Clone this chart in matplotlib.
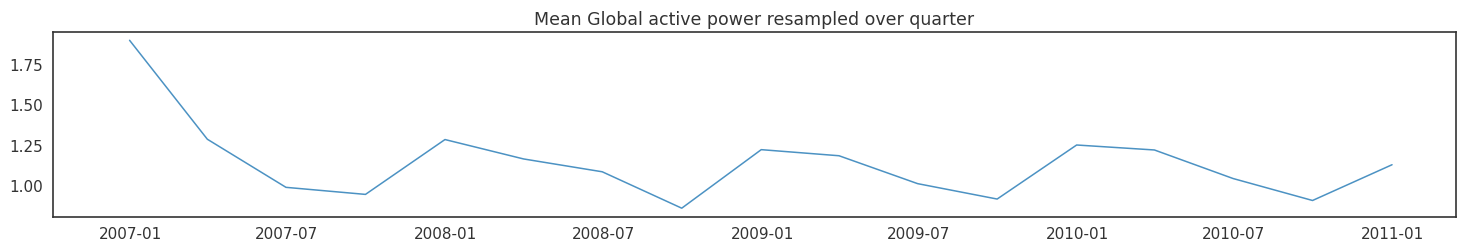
import matplotlib
matplotlib.use('Agg')
import matplotlib.pyplot as plt
import matplotlib.ticker as mticker
import pandas as pd
import seaborn as sns

# Quarterly mean of global active power (quarter-end dates)
dates = pd.date_range('2006-12-31', periods=17, freq='QE')
values = [1.90, 1.283, 0.983, 0.939, 1.281, 1.16, 1.08, 0.853, 1.218,
          1.18, 1.006, 0.91, 1.247, 1.216, 1.038, 0.901, 1.124]

sns.set_style('white')
plt.rcParams['font.family'] = ['DejaVu Sans']

fig, ax = plt.subplots(figsize=(14.71, 2.53), dpi=100)
ax.plot(dates, values, color='#1f77b4', linewidth=1.1, alpha=0.8)
ax.set_title('Mean Global active power resampled over quarter', fontsize=12.5, color='#333333')
ax.yaxis.set_major_locator(mticker.MultipleLocator(0.25))
ax.set_xlim(pd.Timestamp('2006-10-03'), pd.Timestamp('2011-03-15'))
ax.tick_params(axis='both', labelsize=11, colors='#333333')
for sp in ax.spines.values():
    sp.set_color('#333333')
    sp.set_linewidth(1.2)

fig.subplots_adjust(left=0.0358, right=0.9898, top=0.870, bottom=0.140)
fig.savefig('out.png', dpi=100)
